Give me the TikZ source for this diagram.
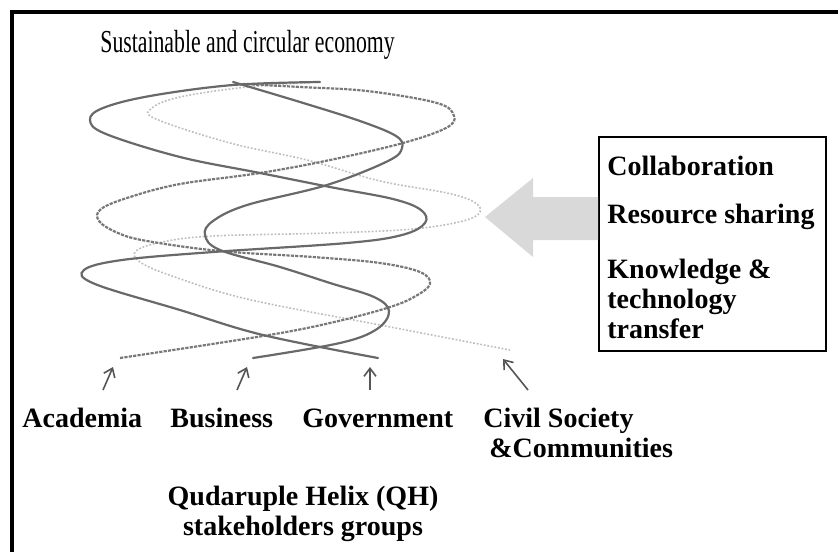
\documentclass[tikz,border=0pt]{standalone}
\usepackage{fontspec}
\setmainfont{Liberation Serif}
\usetikzlibrary{arrows.meta}

\definecolor{strandDark}{RGB}{105,105,105}
\definecolor{strandMid}{RGB}{120,120,120}
\definecolor{strandLight}{RGB}{190,190,190}
\definecolor{pushGray}{RGB}{217,217,217}
\definecolor{tickGray}{RGB}{85,85,85}

\begin{document}
\begin{tikzpicture}[
  x=0.5pt, y=-0.5pt,
  solidStrand/.style={strandDark, line width=1.1pt, line cap=round},
  dashStrand/.style={strandMid, line width=1.1pt, dash pattern=on 1.6pt off 0.6pt},
  dotStrand/.style={strandLight, line width=0.8pt, dash pattern=on 0.9pt off 0.9pt},
  tick/.style={-{Straight Barb[length=4pt,width=6pt]}, tickGray, line width=0.8pt},
  group/.style={font=\fontsize{14}{15}\selectfont\bfseries, inner sep=0pt},
  infobox/.style={draw, line width=0.8pt, minimum width=113.5pt, minimum height=107pt, inner sep=0pt},
]

\useasboundingbox (0,0) rectangle (838,552);

% ── open frame (top and left only)
\draw[line width=1.8pt] (838,12) -- (12,12) -- (12,552);

% ── title
\node[anchor=base west, inner sep=0pt, font=\fontsize{16}{18}\selectfont] (title) at (100,52)
  {\scalebox{0.68}[1]{Sustainable and circular economy}};

% ── the four strands
\draw[dotStrand] plot[smooth, tension=0.6] coordinates {
  (320,82) (247,87) (180,97) (152,108) (156,119) (230,143) (307,160) (380,181)
  (447,193) (474,202) (480,212) (463,221) (413,229) (330,233) (213,236)
  (162,242) (136,251) (140,262) (172,276) (247,299) (380,325) (510,350)};

\draw[dashStrand] plot[smooth, tension=0.6] coordinates {
  (243,84) (300,87) (367,91) (437,103) (454,116) (446,128) (403,143) (330,160)
  (260,173) (180,184) (130,197) (101,209) (99,221) (118,233) (147,241) (220,251)
  (313,257) (380,263) (420,272) (430,284) (414,297) (387,308) (330,323) (263,336)
  (120,358)};

\draw[solidStrand] plot[smooth, tension=0.6] coordinates {
  (233,82) (300,102) (360,121) (396,136) (402,148) (388,161) (327,185) (247,205)
  (213,221) (205,235) (220,250) (280,267) (330,283) (374,297) (389,311) (377,329)
  (340,343) (253,358)};

\draw[solidStrand] plot[smooth, tension=0.6] coordinates {
  (320,82) (233,85) (150,96) (103,108) (90,120) (106,134) (180,157) (260,173)
  (330,187) (393,199) (421,210) (425,223) (402,235) (347,243) (213,252) (122,260)
  (84,270) (95,284) (180,310) (263,335) (378,358)};

% ── info box with block arrow
\node[infobox] (flowBox) at (712.5,244) {};
\fill[pushGray] (flowBox.west |- 0,197) -- (533,197) -- (533,178) -- (485,217)
  -- (533,257) -- (533,240) -- (flowBox.west |- 0,240) -- cycle;

\node[group, anchor=base west] (collab) at (607,175) {Collaboration};
\node[group, anchor=base west] (sharing) at (607,223) {Resource sharing};
\node[group, anchor=north west, align=left] (transfer) at (607,259)
  {Knowledge \&\\technology\\transfer};

% ── stakeholder groups
\node[group, anchor=base west] (academia) at (22,427) {Academia};
\node[group, anchor=base west] (business) at (170,427) {Business};
\node[group, anchor=base west] (government) at (302,427) {Government};
\node[group, anchor=north west, align=left] (civil) at (483,408)
  {Civil Society\\\hspace{3pt}\&Communities};
\node[group, anchor=north, align=center] (qhLabel) at (303,486)
  {Qudaruple Helix (QH)\\ stakeholders groups};

% ── arrows up to the strand ends
\coordinate (acFoot) at (103,390);  \coordinate (acTip) at (113,367);
\coordinate (buFoot) at (237,390);  \coordinate (buTip) at (247,367);
\coordinate (goFoot) at (370,390);  \coordinate (goTip) at (370,367);
\coordinate (ciFoot) at (528,390);  \coordinate (ciTip) at (503,359);

\draw[tick] (acFoot) -- (acTip);
\draw[tick] (buFoot) -- (buTip);
\draw[tick] (goFoot) -- (goTip);
\draw[tick] (ciFoot) -- (ciTip);

\end{tikzpicture}
\end{document}
